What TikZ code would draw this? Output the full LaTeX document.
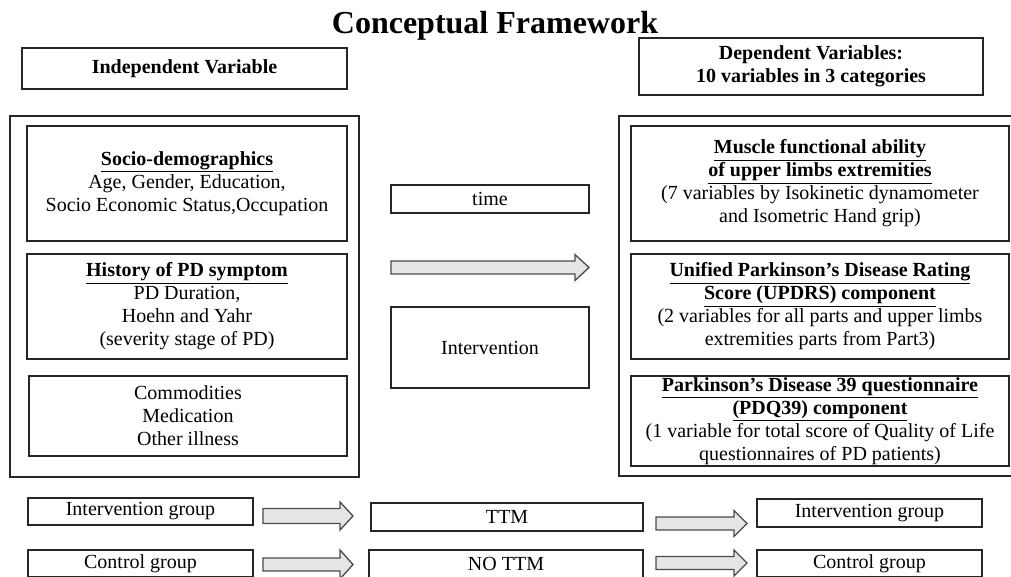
\documentclass[tikz,border=0pt]{standalone}
\usepackage{fontspec}
\setmainfont{Liberation Serif}
\usepackage{xcolor}
\usepackage{tikz}
\usetikzlibrary{calc}

\begin{document}
\begin{tikzpicture}[x=0.75pt, y=-0.75pt,
  sz/.style 2 args={minimum width=#1*0.75pt, minimum height=#2*0.75pt},
  box/.style={draw=black!85, line width=1.1pt, inner sep=0pt, align=center, font=\fontsize{15}{17.25}\selectfont},
  grp/.style={draw=black!85, line width=1.1pt, inner sep=0pt},
  blockarr/.style={draw=black!70, fill=black!10, line width=1pt, line join=miter}]

\useasboundingbox (0,0) rectangle (1011,576);
\clip (0,0) rectangle (1011,576);

\node[anchor=base, font=\fontsize{24}{28}\selectfont\bfseries] (title) at (495,33) {Conceptual Framework};

\node[box, sz={325}{41}] (indep) at (184.5,68.5) {\textbf{Independent Variable}};
\node[box, sz={344}{57}] (dep) at (811,66.5) {\textbf{Dependent Variables:}\\ \textbf{10 variables in 3 categories}};

\node[grp, sz={349}{361}] (leftgrp) at (184.5,296.5) {};
\node[grp, sz={411}{360}] (rightgrp) at (824.5,296) {};

\node[box, sz={320}{115}] (socio) at (187,183.5) {\underline{\textbf{Socio-demographics}}\\ Age, Gender, Education,\\ Socio Economic Status,Occupation};
\node[box, sz={320}{105}] (hist) at (187,306.5) {\underline{\textbf{History of PD symptom}}\\ PD Duration,\\ Hoehn and Yahr\\ (severity stage of PD)};
\node[box, sz={318}{80}] (comorb) at (188,416) {Commodities\\ Medication\\ Other illness};

\node[box, sz={198}{28}] (time) at (490,199) {time};
\node[box, sz={198}{81}] (interv) at (490,347.5) {Intervention};

\node[box, sz={378}{115}] (muscle) at (820,183.5) {\underline{\textbf{Muscle functional ability}}\\ \underline{\textbf{of upper limbs extremities}}\\ (7 variables by Isokinetic dynamometer\\ and Isometric Hand grip)};
\node[box, sz={378}{105}] (updrs) at (820,306.5) {\underline{\textbf{Unified Parkinson's Disease Rating}}\\ \underline{\textbf{Score (UPDRS) component}}\\ (2 variables for all parts and upper limbs\\ extremities parts from Part3)};
\node[box, sz={378}{90}] (pdq) at (820,421) {\underline{\textbf{Parkinson's Disease 39 questionnaire}}\\ \underline{\textbf{(PDQ39) component}}\\ (1 variable for total score of Quality of Life\\ questionnaires of PD patients)};

\node[box, sz={225}{27}] (igrpA) at (140.5,511.5) {Intervention group};
\node[box, sz={272}{28}] (ttm) at (507,517) {TTM};
\node[box, sz={225}{28}] (igrpB) at (869.5,513) {Intervention group};
\node[box, sz={225}{27}] (cgrpA) at (140.5,563.5) {Control group};
\node[box, sz={274}{28}] (nottm) at (506,564) {NO TTM};
\node[box, sz={225}{27}] (cgrpB) at (869.5,563.5) {Control group};

\foreach \xa/\xb/\y/\s/\h/\l in {391/589/267.5/6.5/13/14, 263/353/516/7.5/14/13, 656/747/523.5/6.5/13/13, 263/353/564.5/6.5/14.5/13, 656/747/563/6.5/13/13}
{
  \draw[blockarr] (\xa,\y-\s) -- (\xb-\l,\y-\s) -- (\xb-\l,\y-\h) -- (\xb,\y) -- (\xb-\l,\y+\h) -- (\xb-\l,\y+\s) -- (\xa,\y+\s) -- cycle;
}

\end{tikzpicture}
\end{document}
